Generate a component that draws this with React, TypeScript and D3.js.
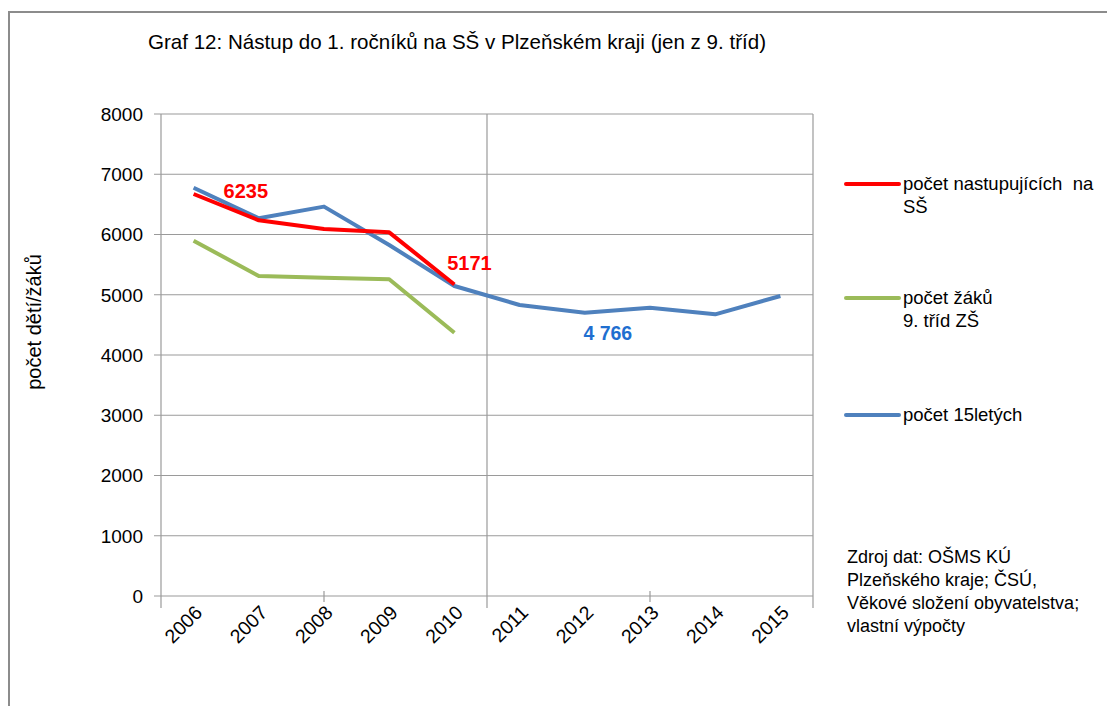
import React from 'react';
import * as d3 from 'd3';

const years = ['2006', '2007', '2008', '2009', '2010', '2011', '2012', '2013', '2014', '2015'];
const nastupujici = [6672, 6235, 6091, 6036, 5171];
const zaci9 = [5897, 5311, 5283, 5256, 4370];
const patnactileti = [6777, 6269, 6463, 5826, 5145, 4830, 4702, 4785, 4675, 4979];
const yTicks = [0, 1000, 2000, 3000, 4000, 5000, 6000, 7000, 8000];

const series = [
    { name: ['počet nastupujících  na', 'SŠ'], values: nastupujici, color: '#ff0000' },
    { name: ['počet žáků', '9. tříd ZŠ'], values: zaci9, color: '#9bbb59' },
    { name: ['počet 15letých'], values: patnactileti, color: '#4f81bd' },
];
const sourceLines = ['Zdroj dat: OŠMS KÚ', 'Plzeňského kraje; ČSÚ,', 'Věkové složení obyvatelstva;', 'vlastní výpočty'];

const W = 1107;
const H = 706;
const FONT = '"Liberation Sans", Arial, sans-serif';

export default function App() {
    const x = d3.scaleBand<string>().domain(years).range([161, 813]);
    const y = d3.scaleLinear().domain([0, 8000]).range([596, 114]);
    const bw = x.bandwidth();
    const cx = (yr: string) => (x(yr) ?? 0) + bw / 2;
    const left = x.range()[0];
    const right = x.range()[1];

    const line = d3
        .line<number>()
        .x((_, i) => cx(years[i]))
        .y((d) => y(d));

    // Excel-style: major gridlines every 5 categories, minor tick marks in between
    const majors = [0, 5, 10].map((i) => left + i * bw);
    const minors = [2.5, 7.5].map((i) => left + i * bw);

    return (
        <svg
            width={W}
            height={H}
            style={{ position: 'absolute', left: 0, top: 0, background: '#fff' }}
            fontFamily={FONT}
        >
            {/* outer frame */}
            <path d={`M9,${H} V12 H${W}`} fill="none" stroke="#8c8c8c" strokeWidth={2} />

            <text x={148} y={49} fontSize={21} fill="#000" textLength={618} lengthAdjust="spacingAndGlyphs">
                Graf 12: Nástup do 1. ročníků na SŠ v Plzeňském kraji (jen z 9. tříd)
            </text>

            {/* horizontal grid */}
            {yTicks.map((t) => (
                <g key={t}>
                    <line x1={left - 7} x2={right} y1={y(t)} y2={y(t)} stroke="#9a9a9a" strokeWidth={1.2} />
                    <text x={143} y={y(t)} dy="0.36em" textAnchor="end" fontSize={19} fill="#000">
                        {t}
                    </text>
                </g>
            ))}

            {/* vertical grid */}
            {majors.map((m) => (
                <line key={m} x1={m} x2={m} y1={y(8000)} y2={y(0) + 12} stroke="#9a9a9a" strokeWidth={1.2} />
            ))}
            {minors.map((m) => (
                <line key={m} x1={m} x2={m} y1={y(0) - 5} y2={y(0) + 6} stroke="#9a9a9a" strokeWidth={1.2} />
            ))}

            {years.map((yr) => (
                <text
                    key={yr}
                    transform={`translate(${cx(yr) + 5},${y(0) + 13}) rotate(-45)`}
                    textAnchor="end"
                    dy="0.35em"
                    fontSize={19.5}
                    fill="#000"
                >
                    {yr}
                </text>
            ))}

            <text
                transform={`translate(41,322) rotate(-90)`}
                textAnchor="middle"
                fontSize={20}
                fill="#000"
            >
                počet dětí/žáků
            </text>

            {/* lines */}
            {[series[2], series[1], series[0]].map((s) => (
                <path
                    key={s.color}
                    d={line(s.values) ?? ''}
                    fill="none"
                    stroke={s.color}
                    strokeWidth={4}
                    strokeLinejoin="round"
                />
            ))}

            {/* data labels */}
            <text x={cx('2007') - 13} y={y(6235) - 29} dy="0.35em" textAnchor="middle" fontSize={20} fontWeight={700} fill="#ff0000">
                6235
            </text>
            <text x={cx('2010') + 15} y={y(5171) - 21} dy="0.35em" textAnchor="middle" fontSize={20} fontWeight={700} fill="#ff0000">
                5171
            </text>
            <text x={cx('2012') + 23} y={y(4702) + 20} dy="0.35em" textAnchor="middle" fontSize={19.5} fontWeight={700} fill="#1f6fd0">
                4 766
            </text>

            {/* legend */}
            {series.map((s, i) => {
                const ly = [184, 298, 415][i];
                return (
                    <g key={s.color}>
                        <line x1={846} x2={899} y1={ly} y2={ly} stroke={s.color} strokeWidth={4} strokeLinecap="round" />
                        {s.name.map((t, j) => (
                            <text
                                key={t}
                                x={903}
                                y={ly + j * 23}
                                dy="0.35em"
                                fontSize={18.5}
                                fill="#000"
                                style={{ whiteSpace: 'pre' }}
                            >
                                {t}
                            </text>
                        ))}
                    </g>
                );
            })}

            {sourceLines.map((t, i) => (
                <text key={t} x={847} y={557 + i * 23} dy="0.35em" fontSize={18} fill="#000">
                    {t}
                </text>
            ))}
        </svg>
    );
}
